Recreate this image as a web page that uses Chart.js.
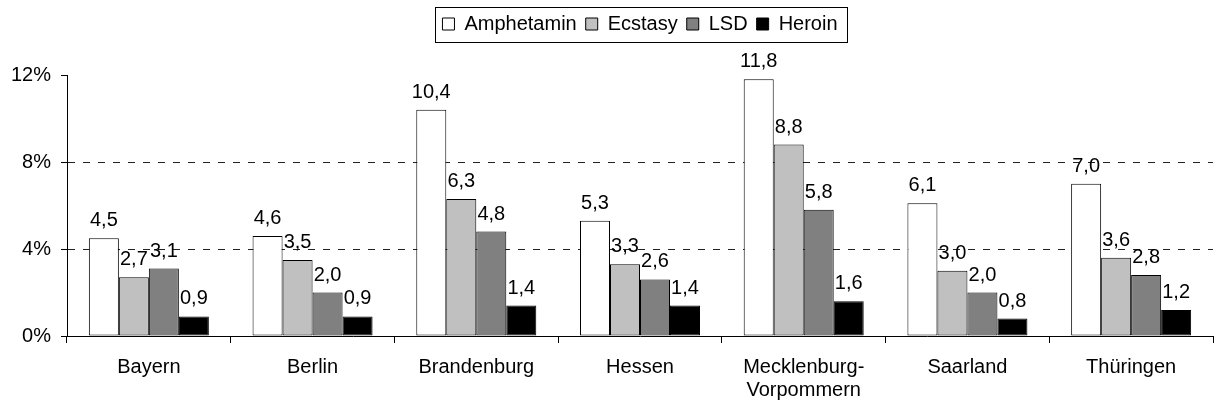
<!DOCTYPE html>
<html lang="de">
<head>
<meta charset="utf-8">
<title>Drogenkonsum nach Bundesland</title>
<script src="https://cdn.jsdelivr.net/npm/chart.js@4/dist/chart.umd.min.js"></script>
<style>
  html, body { margin: 0; padding: 0; background: #fff; }
  #wrap { width: 1214px; height: 406px; position: relative; }
</style>
</head>
<body>
<div id="wrap"><canvas id="chart" width="1214" height="406"></canvas></div>
<script>
// Bundesländer (x-axis categories)
const laender = ['Bayern', 'Berlin', 'Brandenburg', 'Hessen', ['Mecklenburg-', 'Vorpommern'], 'Saarland', 'Thüringen'];

// Lifetime prevalence in percent per substance
const amphetamin = [4.5, 4.6, 10.4, 5.3, 11.8, 6.1, 7.0];
const ecstasy    = [2.7, 3.5, 6.3, 3.3, 8.8, 3.0, 3.6];
const lsd        = [3.1, 2.0, 4.8, 2.6, 5.8, 2.0, 2.8];
const heroin     = [0.9, 0.9, 1.4, 1.4, 1.6, 0.8, 1.2];

// Y-axis tick values (percent)
const yTicks = [0, 4, 8, 12];

const FONT = "'Liberation Sans', Arial, Helvetica, sans-serif";
Chart.defaults.font.family = FONT;
Chart.defaults.font.size = 20;
Chart.defaults.color = '#000';

const fmt = v => v.toFixed(1).replace('.', ',');

// Value labels above each bar
const valueLabels = {
  id: 'valueLabels',
  afterDatasetsDraw(chart) {
    const ctx = chart.ctx;
    ctx.save();
    ctx.font = '20px ' + FONT;
    ctx.fillStyle = '#000';
    ctx.textAlign = 'center';
    ctx.textBaseline = 'alphabetic';
    chart.data.datasets.forEach((ds, di) => {
      const meta = chart.getDatasetMeta(di);
      meta.data.forEach((bar, i) => {
        ctx.fillText(fmt(ds.data[i]), bar.x, bar.y - 12);
      });
    });
    ctx.restore();
  }
};

// Thin frame around the legend items
const legendFrame = {
  id: 'legendFrame',
  afterDraw(chart) {
    const hb = chart.legend && chart.legend.legendHitBoxes;
    if (!hb || !hb.length) return;
    const l = Math.round(Math.min(...hb.map(b => b.left)) - 7);
    const r = Math.round(Math.max(...hb.map(b => b.left + b.width)) + 9);
    const t = Math.round(hb[0].top - 7);
    const b = Math.round(hb[0].top + hb[0].height + 8);
    const ctx = chart.ctx;
    ctx.save();
    ctx.strokeStyle = '#000';
    ctx.lineWidth = 1;
    ctx.strokeRect(l + 0.5, t + 0.5, r - l, b - t);
    ctx.restore();
  }
};

const series = [
  { label: 'Amphetamin', data: amphetamin, backgroundColor: '#ffffff' },
  { label: 'Ecstasy',    data: ecstasy,    backgroundColor: '#c0c0c0' },
  { label: 'LSD',        data: lsd,        backgroundColor: '#808080' },
  { label: 'Heroin',     data: heroin,     backgroundColor: '#000000' }
];

new Chart(document.getElementById('chart'), {
  type: 'bar',
  data: {
    labels: laender,
    datasets: series.map(s => ({
      ...s,
      borderColor: '#000',
      borderWidth: 1,
      borderSkipped: false,
      barPercentage: 1.0,
      categoryPercentage: 0.733
    }))
  },
  options: {
    responsive: false,
    animation: false,
    layout: { padding: { top: 5, left: 0, right: 1, bottom: 0 } },
    plugins: {
      legend: {
        position: 'top',
        fullSize: false,
        labels: {
          boxWidth: 12,
          boxHeight: 12,
          padding: 9,
          color: '#000',
          font: { size: 20, family: FONT }
        }
      },
      // empty spacer between legend and plot area
      subtitle: {
        display: true,
        text: '',
        weight: 0,
        padding: 0,
        font: { size: 10, lineHeight: '31px' }
      },
      tooltip: { enabled: false }
    },
    scales: {
      x: {
        offset: true,
        grid: {
          offset: true,
          drawOnChartArea: false,
          drawTicks: true,
          tickLength: 7,
          color: '#000'
        },
        border: { color: '#000', width: 1 },
        ticks: {
          color: '#000',
          padding: 13,
          maxRotation: 0,
          autoSkip: false,
          font: { size: 20, family: FONT, lineHeight: 1.15 }
        },
        afterFit(scale) { scale.height = 70; }
      },
      y: {
        min: 0,
        max: 12,
        afterBuildTicks(scale) { scale.ticks = yTicks.map(v => ({ value: v })); },
        grid: {
          color: c => (c.tick && (c.tick.value === 4 || c.tick.value === 8)) ? '#222' : 'rgba(0,0,0,0)',
          tickColor: '#000',
          tickLength: 6,
          drawTicks: true
        },
        border: { color: '#000', width: 1, dash: [7, 8] },
        ticks: {
          color: '#000',
          padding: 10,
          font: { size: 20, family: FONT },
          callback: v => v + '%'
        },
        afterFit(scale) { scale.width = 67; }
      }
    }
  },
  plugins: [valueLabels, legendFrame]
});
</script>
</body>
</html>
